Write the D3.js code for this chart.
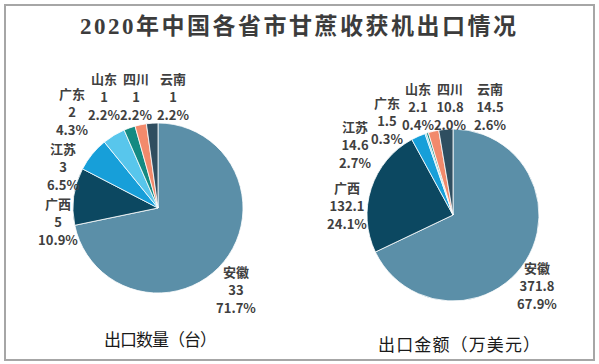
<!DOCTYPE html>
<html><head><meta charset="utf-8">
<script src="https://cdn.jsdelivr.net/npm/d3@7"></script>
<style>
html,body{margin:0;padding:0;background:#fff;}
svg{display:block;}
</style></head>
<body>
<script>
// ---- data ----
const provinces = ["安徽","广西","江苏","广东","山东","四川","云南"];
const qtyValues = [33, 5, 3, 2, 1, 1, 1];
const qtyPercents = ["71.7%","10.9%","6.5%","4.3%","2.2%","2.2%","2.2%"];
const amtValues = [371.8, 132.1, 14.6, 1.5, 2.1, 10.8, 14.5];
const amtPercents = ["67.9%","24.1%","2.7%","0.3%","0.4%","2.0%","2.6%"];
const title = "2020年中国各省市甘蔗收获机出口情况";
const subtitles = ["出口数量（台）","出口金额（万美元）"];

// ---- layout/style ----
const W = 599, H = 364;
const colors = ["#5b8fa8","#0c4861","#179fd9","#58c6ec","#148a82","#f28a6c","#2f4e60"];
const color = d3.scaleOrdinal().domain(provinces).range(colors);
const font = "'Noto Sans CJK SC','Noto Sans',sans-serif";

const svg = d3.select("body").append("svg").attr("width", W).attr("height", H);
svg.append("rect").attr("x",5).attr("y",5).attr("width",589).attr("height",355)
  .attr("fill","#fff").attr("stroke","#a6a6a6").attr("stroke-width",2);

svg.append("text").attr("x", 80).attr("y", 34).attr("text-anchor","start")
  .attr("font-family", "'Liberation Serif','Noto Sans CJK SC',serif")
  .attr("font-size", 23).attr("font-weight","bold").attr("fill","#3c3c3c")
  .attr("textLength", 436).attr("lengthAdjust","spacing").text(title);

const pies = [
  {values: qtyValues, pcts: qtyPercents, cx: 158, cy: 208, r: 85, sub: subtitles[0], subX: 104, subY: 346, subLen: 113,
   labels: [[236,277],[58,209],[63,154],[72,99],[104,84],[136,84],[173,84]]},
  {values: amtValues, pcts: amtPercents, cx: 453, cy: 215, r: 86, sub: subtitles[1], subX: 378, subY: 351, subLen: 162,
   labels: [[537,273],[347,193],[355,132],[387,108],[418,94],[450,94],[490,94]]}
];

const pieGen = d3.pie().sort(null).value(d => d.v);
const lineH = 18;

pies.forEach(p => {
  const data = provinces.map((name,i) => ({name, v: p.values[i], pct: p.pcts[i]}));
  const arcs = pieGen(data);
  const arc = d3.arc().innerRadius(0).outerRadius(p.r);
  const g = svg.append("g").attr("transform", `translate(${p.cx},${p.cy})`);
  g.selectAll("path").data(arcs).join("path")
    .attr("d", arc).attr("fill", d => color(d.data.name))
    .attr("stroke","#fff").attr("stroke-width",0.8);

  arcs.forEach((a,i) => {
    const [lx, ly] = p.labels[i];
    const t = svg.append("text").attr("text-anchor","middle")
      .attr("font-family", font).attr("font-size", 13).attr("font-weight","bold")
      .attr("fill","#404040");
    [a.data.name, String(a.data.v), a.data.pct].forEach((s,k) => {
      t.append("tspan").attr("x", lx).attr("y", ly + k*lineH).text(s);
    });
  });

  svg.append("text").attr("x", p.subX).attr("y", p.subY).attr("text-anchor","start")
    .attr("font-family", font).attr("font-size", 17).attr("fill","#1a1a1a")
    .attr("textLength", p.subLen).attr("lengthAdjust","spacing").text(p.sub);
});
</script>
</body></html>
